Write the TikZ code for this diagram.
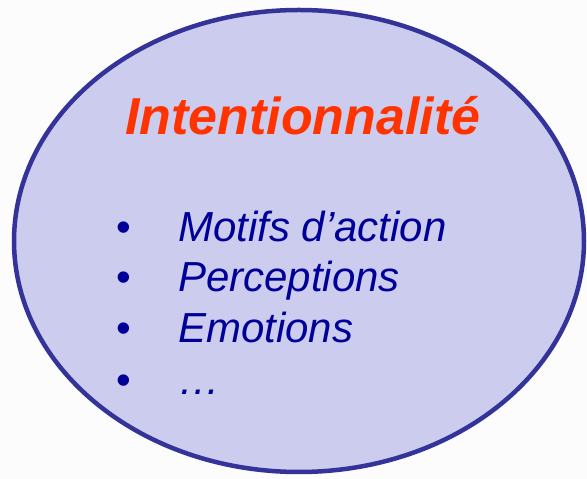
\documentclass[tikz,border=0pt]{standalone}
\usepackage{fontspec}
\setmainfont{Liberation Sans}
\definecolor{bgwhite}{HTML}{FCFCFC}
\definecolor{ovalfill}{HTML}{CCCCEE}
\definecolor{ovalline}{HTML}{333399}
\definecolor{titlered}{HTML}{FF3300}
\definecolor{itemblue}{HTML}{000099}
\tikzset{
    titletext/.style={font=\fontsize{52}{52}\selectfont\bfseries\itshape, text=titlered, anchor=base west, inner sep=0pt},
    itemtext/.style={font=\fontsize{42}{42}\selectfont\itshape, text=itemblue, anchor=base west, inner sep=0pt},
    bullet/.style={font=\fontsize{42}{42}\selectfont, text=itemblue, anchor=base, inner sep=0pt}
}
\begin{document}
\begin{tikzpicture}[x=1pt,y=1pt]
        % Background of the slide
        \fill[bgwhite] (0,0) rectangle (587,479);
        \useasboundingbox (0,0) rectangle (587,479);

        % Draw the oval
        \coordinate (center) at (299,238);
        \fill[ovalfill] (center) ellipse [x radius=285, y radius=231];
        \draw[ovalline, line width=4.5pt] (center) ellipse [x radius=285, y radius=231];

        % Title
        \node[titletext] (title) at (125,344) {Intentionnalité};

        % List of items
        \node[bullet] (b1) at (124,237) {•};
        \node[itemtext] (motifs) at (178,237) {Motifs d’action};

        \node[bullet] (b2) at (124,187) {•};
        \node[itemtext] (perceptions) at (178,187) {Perceptions};

        \node[bullet] (b3) at (124,136) {•};
        \node[itemtext] (emotions) at (178,136) {Emotions};

        \node[bullet] (b4) at (124,84) {•};
        \node[itemtext] (etc) at (178,84) {…};
\end{tikzpicture}
\end{document}
